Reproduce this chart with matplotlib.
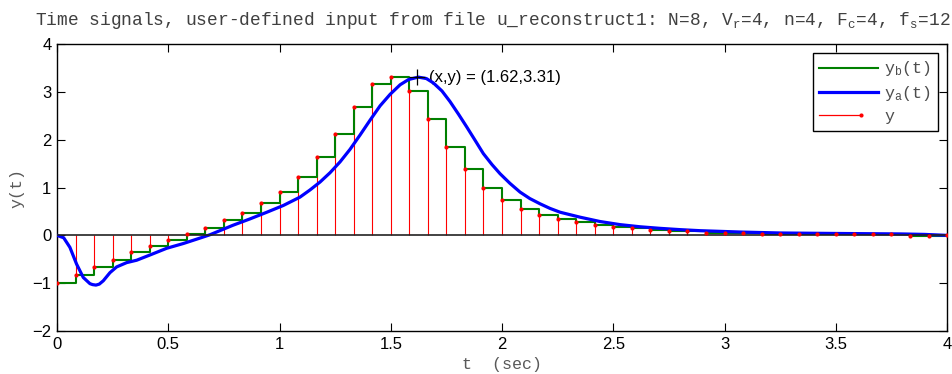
import matplotlib
matplotlib.use("Agg")
from matplotlib import pyplot as plt
from matplotlib.lines import Line2D
from matplotlib.legend_handler import HandlerBase
import numpy as np

plt.rcParams.update({
    'font.family': 'Liberation Sans',
    'font.size': 12,
    'mathtext.fontset': 'custom',
    'mathtext.rm': 'Liberation Mono',
    'mathtext.it': 'Liberation Mono',
})
MONO = 'Liberation Mono'

fs = 12
# sampled signal y[k], k = 0..48 at t = k/fs
y_samples = [-1.00, -0.82, -0.66, -0.505, -0.345, -0.225, -0.10, 0.03, 0.155,
             0.315, 0.465, 0.68, 0.905, 1.22, 1.63, 2.13, 2.695, 3.165, 3.31,
             3.01, 2.44, 1.85, 1.39, 1.00, 0.745, 0.555, 0.43, 0.335, 0.28,
             0.21, 0.18, 0.155, 0.12, 0.09, 0.085, 0.06, 0.055, 0.05, 0.035,
             0.03, 0.03, 0.03, 0.03, 0.03, 0.03, 0.03, -0.01, -0.01, 0.0]
t_samples = np.arange(len(y_samples)) / fs

# analog output y_a(t)
t_analog = [0, 0.03, 0.058, 0.088, 0.118, 0.148, 0.16, 0.175, 0.19, 0.208,
            0.238, 0.268, 0.313, 0.358, 0.418, 0.493, 0.568, 0.643, 0.688,
            0.79, 0.867, 0.943, 1.017, 1.092, 1.137, 1.182, 1.227, 1.272,
            1.317, 1.362, 1.407, 1.452, 1.497, 1.542, 1.58, 1.624, 1.66,
            1.691, 1.73, 1.766, 1.805, 1.841, 1.88, 1.916, 1.955, 1.991,
            2.035, 2.081, 2.125, 2.171, 2.215, 2.261, 2.351, 2.44, 2.53,
            2.62, 2.71, 2.8, 2.89, 2.98, 3.07, 3.25, 3.5, 3.79, 3.9, 4.0]
y_analog = [0, -0.05, -0.25, -0.6, -0.88, -1.01, -1.03, -1.04, -1.02, -0.95,
            -0.78, -0.66, -0.57, -0.52, -0.41, -0.27, -0.17, -0.056, 0.014,
            0.21, 0.344, 0.484, 0.625, 0.8, 0.95, 1.115, 1.31, 1.537,
            1.80, 2.1, 2.41, 2.71, 2.95, 3.15, 3.26, 3.31, 3.28,
            3.19, 3.02, 2.8, 2.53, 2.27, 1.98, 1.71, 1.48, 1.29,
            1.09, 0.905, 0.77, 0.66, 0.565, 0.484, 0.38, 0.29, 0.225,
            0.18, 0.147, 0.12, 0.098, 0.084, 0.07, 0.05, 0.04, 0.03, 0.02, 0.0]

peak = (1.62, 3.31)

x_ticks = [0, 0.5, 1, 1.5, 2, 2.5, 3, 3.5, 4]
x_tick_labels = ['0', '0.5', '1', '1.5', '2', '2.5', '3', '3.5', '4']
y_ticks = [-2, -1, 0, 1, 2, 3, 4]
y_tick_labels = ['\u22122', '\u22121', '0', '1', '2', '3', '4']


class StemHandler(HandlerBase):
    # red line with the dot at its right end, like a stem legend entry
    def create_artists(self, legend, orig_handle, xdescent, ydescent,
                       width, height, fontsize, trans):
        yc = height / 2 - ydescent
        x1 = -xdescent + width * 0.72
        line = Line2D([-xdescent, x1], [yc, yc], color='r', lw=0.9)
        dot = Line2D([x1], [yc], marker='o', ms=3, color='r', mec='none')
        line.set_transform(trans)
        dot.set_transform(trans)
        return [line, dot]


fig = plt.figure(figsize=(9.53, 3.74), dpi=100)
ax = fig.add_axes([0.0598, 0.115, 0.934, 0.767])

stem = ax.stem(t_samples, y_samples, linefmt='r-', markerfmt='ro', basefmt='k-')
plt.setp(stem.stemlines, linewidth=0.8, zorder=2)
plt.setp(stem.markerline, markersize=3, markeredgecolor='none', zorder=6)
plt.setp(stem.baseline, linewidth=1.2, color='#222222', zorder=5)

h_b, = ax.plot(t_samples, y_samples, drawstyle='steps-post', color='#008000',
               lw=1.5, zorder=3)
h_a, = ax.plot(t_analog, y_analog, color='#0000ff', lw=2.3, zorder=4,
               solid_joinstyle='round')

ax.plot(*peak, marker='+', color='k', ms=11, mew=0.9, zorder=7)
ax.text(peak[0] + 0.05, peak[1], '(x,y) = (%.2f,%.2f)' % peak, fontsize=12,
        va='center', ha='left')

ax.set_xlim(0, 4)
ax.set_ylim(-2, 4)
ax.set_xticks(x_ticks)
ax.set_xticklabels(x_tick_labels)
ax.set_yticks(y_ticks)
ax.set_yticklabels(y_tick_labels)
ax.tick_params(direction='in', length=6, width=0.8, top=True, right=True,
               labelsize=12, pad=4)
for s in ax.spines.values():
    s.set_linewidth(1.0)

ax.set_xlabel('t  (sec)', family=MONO, fontsize=12, color='0.35', labelpad=4)
ax.set_ylabel('y(t)', family=MONO, fontsize=12, color='0.35', labelpad=6)
ax.set_title('Time signals, user-defined input from file u_reconstruct1: '
             'N=8, V$_r$=4, n=4, F$_c$=4, f$_s$=12',
             family=MONO, fontsize=12.9, color='0.25', pad=14, x=0.49)

leg = ax.legend([h_b, h_a, stem.markerline], ['y$_b$(t)', 'y$_a$(t)', 'y'],
                handler_map={stem.markerline: StemHandler()},
                loc='upper right', bbox_to_anchor=(0.9895, 0.97),
                fancybox=False, edgecolor='k', framealpha=1,
                prop={'family': MONO, 'size': 12}, handlelength=3.5,
                handletextpad=0.4, labelspacing=0.35, borderpad=0.4,
                borderaxespad=0)
leg.get_frame().set_linewidth(1.0)
for txt in leg.get_texts():
    txt.set_color('0.3')

fig.savefig('out.png', dpi=100)
